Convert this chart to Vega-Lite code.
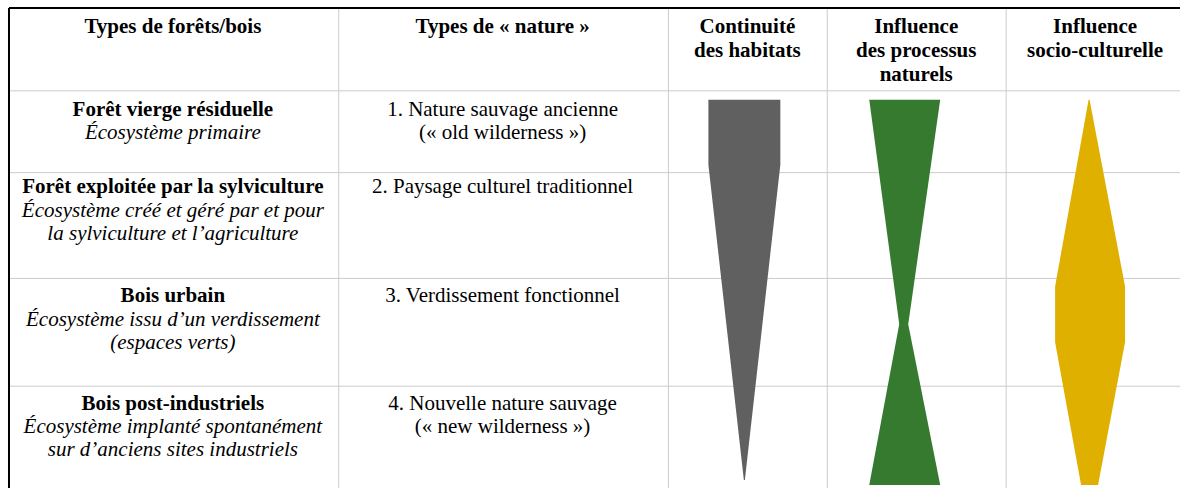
{
  "$schema": "https://vega.github.io/schema/vega-lite/v6.json",
  "width": 1181,
  "height": 489,
  "padding": 0,
  "autosize": {"type": "fit", "contains": "padding"},
  "background": "white",
  "config": {"view": {"stroke": null}},
  "datasets": {
    "grid": [
      {"x": 9, "x2": 1181, "y": 91, "y2": 91},
      {"x": 9, "x2": 1181, "y": 173, "y2": 173},
      {"x": 9, "x2": 1181, "y": 279, "y2": 279},
      {"x": 9, "x2": 1181, "y": 387, "y2": 387},
      {"x": 339, "x2": 339, "y": 8, "y2": 489},
      {"x": 669, "x2": 669, "y": 8, "y2": 489},
      {"x": 828, "x2": 828, "y": 8, "y2": 489},
      {"x": 1007, "x2": 1007, "y": 8, "y2": 489}
    ],
    "border": [
      {"x": 9, "x2": 1181, "y": 8, "y2": 8},
      {"x": 9, "x2": 9, "y": 8, "y2": 489}
    ],
    "shapes": [
      {"shape": "Continuité des habitats", "y": 100, "left": 709, "right": 781},
      {"shape": "Continuité des habitats", "y": 165, "left": 709, "right": 781},
      {"shape": "Continuité des habitats", "y": 481, "left": 744.5, "right": 745.5},
      {"shape": "Influence des processus naturels", "y": 100, "left": 870, "right": 941},
      {"shape": "Influence des processus naturels", "y": 325, "left": 900, "right": 909},
      {"shape": "Influence des processus naturels", "y": 486, "left": 870, "right": 941},
      {"shape": "Influence socio-culturelle", "y": 100, "left": 1089.5, "right": 1090.5},
      {"shape": "Influence socio-culturelle", "y": 287, "left": 1056, "right": 1126},
      {"shape": "Influence socio-culturelle", "y": 343, "left": 1056, "right": 1126},
      {"shape": "Influence socio-culturelle", "y": 486, "left": 1082, "right": 1099}
    ],
    "texts": [
      {"kind": "header", "x": 173, "y": 33, "label": "Types de forêts/bois"},
      {"kind": "header", "x": 503, "y": 33, "label": "Types de « nature »"},
      {"kind": "header", "x": 748, "y": 33, "label": "Continuité"},
      {"kind": "header", "x": 748, "y": 57, "label": "des habitats"},
      {"kind": "header", "x": 917, "y": 33, "label": "Influence"},
      {"kind": "header", "x": 917, "y": 57, "label": "des processus"},
      {"kind": "header", "x": 917, "y": 81, "label": "naturels"},
      {"kind": "header", "x": 1096, "y": 33, "label": "Influence"},
      {"kind": "header", "x": 1096, "y": 57, "label": "socio-culturelle"},
      {"kind": "title", "x": 173, "y": 116, "label": "Forêt vierge résiduelle"},
      {"kind": "title", "x": 173, "y": 193, "label": "Forêt exploitée par la sylviculture"},
      {"kind": "title", "x": 173, "y": 303, "label": "Bois urbain"},
      {"kind": "title", "x": 173, "y": 411, "label": "Bois post-industriels"},
      {"kind": "sub", "x": 173, "y": 139, "label": "Écosystème primaire"},
      {"kind": "sub", "x": 173, "y": 217, "label": "Écosystème créé et géré par et pour"},
      {"kind": "sub", "x": 173, "y": 240, "label": "la sylviculture et l’agriculture"},
      {"kind": "sub", "x": 173, "y": 327, "label": "Écosystème issu d’un verdissement"},
      {"kind": "sub", "x": 173, "y": 350, "label": "(espaces verts)"},
      {"kind": "sub", "x": 173, "y": 434, "label": "Écosystème implanté spontanément"},
      {"kind": "sub", "x": 173, "y": 457, "label": "sur d’anciens sites industriels"},
      {"kind": "nature", "x": 503, "y": 116, "label": "1. Nature sauvage ancienne"},
      {"kind": "nature", "x": 503, "y": 139, "label": "(« old wilderness »)"},
      {"kind": "nature", "x": 503, "y": 193, "label": "2. Paysage culturel traditionnel"},
      {"kind": "nature", "x": 503, "y": 303, "label": "3. Verdissement fonctionnel"},
      {"kind": "nature", "x": 503, "y": 411, "label": "4. Nouvelle nature sauvage"},
      {"kind": "nature", "x": 503, "y": 434, "label": "(« new wilderness »)"}
    ]
  },
  "layer": [
    {
      "data": {"name": "grid"},
      "mark": {"type": "rule", "color": "#cccccc", "strokeWidth": 1},
      "encoding": {
        "x": {"field": "x", "type": "quantitative", "scale": {"domain": [0, 1181], "nice": false, "zero": false}, "axis": null},
        "x2": {"field": "x2"},
        "y": {"field": "y", "type": "quantitative", "scale": {"domain": [0, 489], "nice": false, "zero": false, "reverse": true}, "axis": null},
        "y2": {"field": "y2"}
      }
    },
    {
      "data": {"name": "border"},
      "mark": {"type": "rule", "color": "#000000", "strokeWidth": 2},
      "encoding": {
        "x": {"field": "x", "type": "quantitative"},
        "x2": {"field": "x2"},
        "y": {"field": "y", "type": "quantitative"},
        "y2": {"field": "y2"}
      }
    },
    {
      "data": {"name": "shapes"},
      "mark": {"type": "area", "orient": "horizontal"},
      "encoding": {
        "y": {"field": "y", "type": "quantitative"},
        "x": {"field": "left", "type": "quantitative", "stack": null},
        "x2": {"field": "right"},
        "color": {
          "field": "shape",
          "type": "nominal",
          "scale": {"domain": ["Continuité des habitats", "Influence des processus naturels", "Influence socio-culturelle"], "range": ["#606060", "#367a30", "#e0b000"]},
          "legend": null
        }
      }
    },
    {
      "data": {"name": "texts"},
      "transform": [{"filter": "datum.kind === 'header' || datum.kind === 'title'"}],
      "mark": {"type": "text", "font": "Liberation Serif, DejaVu Serif, serif", "fontSize": 21, "fontWeight": "bold", "align": "center", "baseline": "alphabetic", "color": "#000000"},
      "encoding": {
        "x": {"field": "x", "type": "quantitative"},
        "y": {"field": "y", "type": "quantitative"},
        "text": {"field": "label"}
      }
    },
    {
      "data": {"name": "texts"},
      "transform": [{"filter": "datum.kind === 'sub'"}],
      "mark": {"type": "text", "font": "Liberation Serif, DejaVu Serif, serif", "fontSize": 21, "fontStyle": "italic", "align": "center", "baseline": "alphabetic", "color": "#000000"},
      "encoding": {
        "x": {"field": "x", "type": "quantitative"},
        "y": {"field": "y", "type": "quantitative"},
        "text": {"field": "label"}
      }
    },
    {
      "data": {"name": "texts"},
      "transform": [{"filter": "datum.kind === 'nature'"}],
      "mark": {"type": "text", "font": "Liberation Serif, DejaVu Serif, serif", "fontSize": 21, "align": "center", "baseline": "alphabetic", "color": "#000000"},
      "encoding": {
        "x": {"field": "x", "type": "quantitative"},
        "y": {"field": "y", "type": "quantitative"},
        "text": {"field": "label"}
      }
    }
  ]
}
